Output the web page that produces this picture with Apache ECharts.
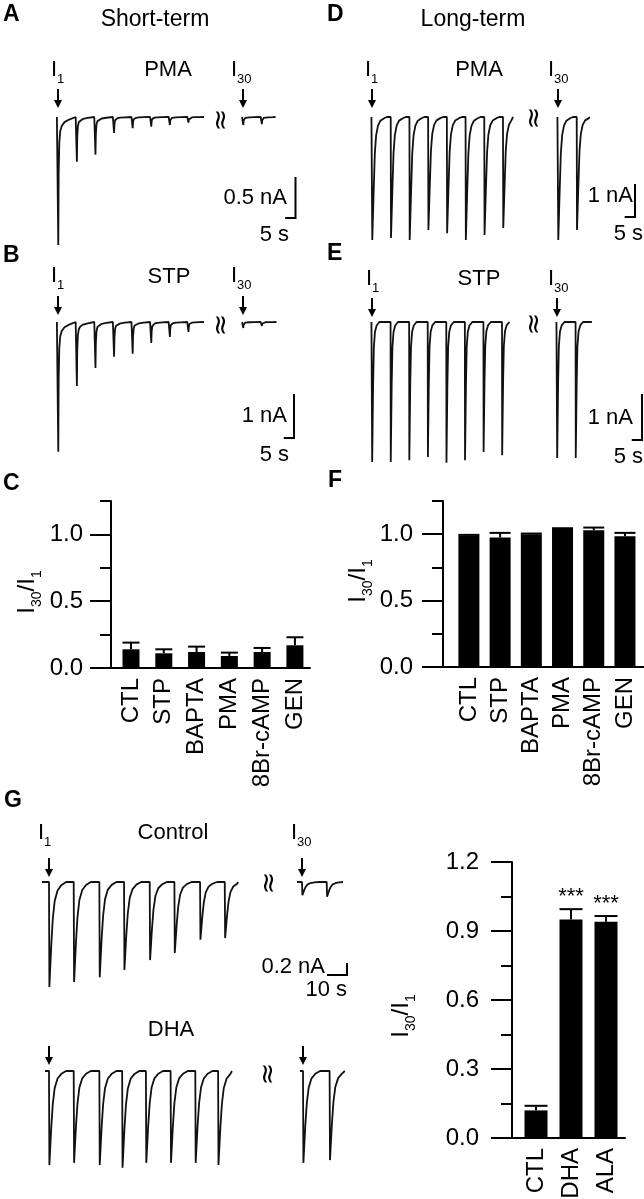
<!DOCTYPE html>
<html><head><meta charset="utf-8">
<script src="https://cdn.jsdelivr.net/npm/echarts@6.0.0/dist/echarts.min.js"></script>
<style>html,body{margin:0;padding:0;background:#fff}#c{width:644px;height:1199px}</style>
</head><body><div id="c"></div>
<script>
// ================= DATA =================
// Bar panels (I30/I1 ratio, mean and SEM)
const barCategoriesCF = ['CTL', 'STP', 'BAPTA', 'PMA', '8Br-cAMP', 'GEN'];
const ratioShortTerm = [0.14, 0.11, 0.12, 0.09, 0.12, 0.17];
const semShortTerm   = [0.05, 0.03, 0.04, 0.025, 0.03, 0.06];
const ratioLongTerm  = [0.99, 0.975, 1.0, 1.04, 1.03, 0.985];
const semLongTerm    = [0.005, 0.035, 0.005, 0.005, 0.02, 0.025];
const barCategoriesG = ['CTL', 'DHA', 'ALA'];
const ratioG = [0.12, 0.95, 0.94];
const semG   = [0.02, 0.045, 0.025];
const sigG   = ['', '***', '***'];
const tickLabelsCF = [0, 0.5, 1.0];
const tickMinorCF  = [0, 0.25, 0.5, 0.75, 1.0, 1.25];
const tickLabelsG  = [0, 0.3, 0.6, 0.9, 1.2];
const tickMinorG   = [0, 0.15, 0.3, 0.45, 0.6, 0.75, 0.9, 1.05, 1.2];

// Current traces: pulse times (s) and inward peak amplitudes (nA)
const pulseTimesAE   = [0, 10, 20, 30, 40, 50, 60, 70];
const pulseTimesAE30 = [290, 300];
const peaksA   = [1.60, 0.56, 0.47, 0.20, 0.14, 0.12, 0.10, 0.07];
const peaksA30 = [0.10, 0.09];
const peaksB   = [3.02, 1.49, 1.07, 0.81, 0.74, 0.49, 0.35, 0.23];
const peaksB30 = [0.14, 0.09];
const peaksD   = [3.84, 3.78, 3.84, 3.53, 3.63, 3.84, 3.69, 3.47];
const peaksD30 = [3.84, 3.53];
const peaksE   = [3.11, 3.11, 3.07, 3.00, 3.13, 3.07, 2.89, 2.96];
const peaksE30 = [3.02, 3.02];
const pulseTimesCtl   = [0, 13, 26.5, 39.5, 53, 66, 79.5, 92.5];
const pulseTimesCtl30 = [370, 383];
const peaksCtl   = [1.91, 1.82, 1.73, 1.60, 1.42, 1.29, 1.05, 1.02];
const peaksCtl30 = [0.24, 0.27];
const pulseTimesDha   = [0, 13, 26.5, 38.5, 51, 64, 77, 89];
const pulseTimesDha30 = [370, 384];
const peaksDha   = [1.71, 1.67, 1.71, 1.76, 1.67, 1.67, 1.67, 1.71];
const peaksDha30 = [1.67, 1.62];
// scale bars [nA, s]
const scaleA = [0.5, 5], scaleB = [1, 5], scaleD = [1, 5], scaleE = [1, 5], scaleG = [0.2, 10];

// waveform templates (time offset s, fraction of peak)
const shapeShort = [[0,0],[0.15,1],[0.35,0.45],[0.7,0.2],[1.2,0.11],[2,0.07],[3.5,0.04],[6,0.02],[9.5,0]];
const shapeLong  = [[0,0],[0.15,1],[0.9,0.6],[1.5,0.3],[2.2,0.15],[3.2,0.07],[4.5,0.03],[6.5,0.01],[8,0]];
const shapeSharp = [[0,0],[0.1,1],[0.6,0.45],[1.0,0.18],[1.6,0.07],[2.5,0.025],[4,0]];
const shapeG     = [[0,0],[0.2,1],[1.2,0.6],[2.0,0.35],[3,0.18],[4.5,0.08],[6.5,0.03],[9,0]];

// ================= LAYOUT =================
const FONT = '"Liberation Sans", Arial, Helvetica, sans-serif';
const ARROW = 'path://M3,0 L5,0 L5,11 L8,11 L4,19 L0,11 L3,11 Z';

const traces = [
  {times: pulseTimesAE, peaks: peaksA, times30: pulseTimesAE30, peaks30: peaksA30, shape: shapeShort,
   x0: 58, x30: 243, y0: 117, pxs: 1.86, pxa: 80, seg1: [-0.6, 78.5], seg2: [289.5, 307.5], scale: scaleA, corner: [295.5, 218], gap: 9},
  {times: pulseTimesAE, peaks: peaksB, times30: pulseTimesAE30, peaks30: peaksB30, shape: shapeShort,
   x0: 58, x30: 243, y0: 322, pxs: 1.86, pxa: 43, seg1: [-0.6, 78.5], seg2: [289.5, 308], scale: scaleB, corner: [294, 438], gap: 7},
  {times: pulseTimesAE, peaks: peaksD, times30: pulseTimesAE30, peaks30: peaksD30, shape: shapeLong,
   x0: 372, x30: 558, y0: 117, pxs: 1.871, pxa: 32, seg1: [-0.3, 75.4], seg2: [289.7, 307], scale: scaleD, corner: [635, 217], gap: 9},
  {times: pulseTimesAE, peaks: peaksE, times30: pulseTimesAE30, peaks30: peaksE30, shape: shapeSharp,
   x0: 372, x30: 557, y0: 322, pxs: 1.857, pxa: 45, seg1: [-0.3, 74.3], seg2: [289.7, 308.8], scale: scaleE, corner: [642, 440], gap: 5},
  {times: pulseTimesCtl, peaks: peaksCtl, times30: pulseTimesCtl30, peaks30: peaksCtl30, shape: shapeG,
   x0: 49, x30: 302, y0: 882, pxs: 1.9, pxa: 55, seg1: [-3.7, 99.5], seg2: [367.4, 391.6], scale: scaleG, corner: [347, 975], gap: 5},
  {times: pulseTimesDha, peaks: peaksDha, times30: pulseTimesDha30, peaks30: peaksDha30, shape: shapeG,
   x0: 49, x30: 303, y0: 1071, pxs: 1.9, pxa: 55, seg1: [-2.1, 96.3], seg2: [368.4, 392], scale: null, corner: null, gap: 6}
];

const option = {animation: false, backgroundColor: '#fff', grid: [], xAxis: [], yAxis: [], series: [], graphic: []};

function addGrid(g) {
  option.grid.push(Object.assign({outerBoundsMode: 'none', containLabel: false}, g));
  return option.grid.length - 1;
}

function waveform(times, peaks, shape, t0, t1) {
  const pts = [[t0, 0]];
  times.forEach((t, i) => shape.forEach(([dt, f]) => {
    const tt = t + dt;
    if (tt > t0 && tt < t1) pts.push([tt, -peaks[i] * f]);
  }));
  pts.push([t1, 0]);
  return pts;
}

function traceSegment(tr, times, peaks, xAnchor, range, withScale) {
  const ext = [range[0] - 0.5, range[1] + 0.5];
  let yMin = -Math.max(...peaks) - 0.15, yMax = 0.15;
  let scalePts = null;
  if (withScale && tr.scale) {
    const tc = times[0] + (tr.corner[0] - xAnchor) / tr.pxs;
    const vc = -(tr.corner[1] - tr.y0) / tr.pxa;
    scalePts = [[tc - tr.scale[1], vc], [tc, vc], [tc, vc + tr.scale[0]]];
    ext[1] = Math.max(ext[1], tc + 1.5);
    yMin = Math.min(yMin, vc - 0.1);
  }
  const gi = addGrid({
    left: xAnchor + (ext[0] - times[0]) * tr.pxs, width: (ext[1] - ext[0]) * tr.pxs,
    top: tr.y0 - yMax * tr.pxa, height: (yMax - yMin) * tr.pxa
  });
  option.xAxis.push({gridIndex: gi, type: 'value', min: ext[0], max: ext[1], show: false});
  option.yAxis.push({gridIndex: gi, type: 'value', min: yMin, max: yMax, show: false});
  const xi = option.xAxis.length - 1, yi = option.yAxis.length - 1;
  option.series.push({
    type: 'line', xAxisIndex: xi, yAxisIndex: yi, silent: true, symbol: 'none', clip: false,
    data: waveform(times, peaks, tr.shape, range[0], range[1]),
    lineStyle: {color: '#111', width: 1.8},
    markPoint: {
      symbol: ARROW, symbolSize: [8, 19], symbolOffset: [0, -(tr.gap + 9.5)], silent: true,
      itemStyle: {color: '#000'}, label: {show: false}, data: [{coord: [times[0], 0]}]
    }
  });
  if (scalePts) {
    option.series.push({
      type: 'line', xAxisIndex: xi, yAxisIndex: yi, silent: true, symbol: 'none', clip: false,
      data: scalePts, lineStyle: {color: '#000', width: 2, cap: 'square', join: 'miter'}
    });
  }
}

traces.forEach(tr => {
  traceSegment(tr, tr.times, tr.peaks, tr.x0, tr.seg1, false);
  traceSegment(tr, tr.times30, tr.peaks30, tr.x30, tr.seg2, true);
});

function barPanel(cfg) {
  const gi = addGrid({left: cfg.left, top: cfg.top, width: cfg.width, height: cfg.height});
  option.xAxis.push({
    gridIndex: gi, type: 'value', min: cfg.xMin, max: cfg.xMax, splitLine: {show: false},
    axisLine: {show: true, onZero: false, lineStyle: {color: '#000', width: 2}},
    axisTick: {show: false},
    axisLabel: {customValues: cfg.cats.map((c, i) => i), formatter: v => cfg.cats[Math.round(v)],
      rotate: 90, margin: 10, color: '#000', fontSize: 24, fontFamily: FONT}
  });
  const xi = option.xAxis.length - 1;
  option.yAxis.push({
    gridIndex: gi, type: 'value', position: 'left', min: 0, max: cfg.yMax, splitLine: {show: false},
    axisLine: {show: true, onZero: false, lineStyle: {color: '#000', width: 2}},
    axisTick: {show: true, inside: false, length: 11, customValues: cfg.minor, lineStyle: {color: '#000', width: 2}},
    axisLabel: {show: false}
  });
  option.yAxis.push({
    gridIndex: gi, type: 'value', position: 'left', min: 0, max: cfg.yMax, splitLine: {show: false},
    axisLine: {show: false, onZero: false},
    axisTick: {show: true, inside: false, length: 21, customValues: cfg.major, lineStyle: {color: '#000', width: 2}},
    axisLabel: {customValues: cfg.major, formatter: v => v.toFixed(1), margin: cfg.labelMargin,
      color: '#000', fontSize: 24, fontFamily: FONT}
  });
  const yi = option.yAxis.length - 2;
  option.series.push({
    type: 'bar', xAxisIndex: xi, yAxisIndex: yi, silent: true, barWidth: cfg.barW,
    itemStyle: {color: '#000'}, data: cfg.vals.map((v, i) => [i, v])
  });
  option.series.push({
    type: 'custom', xAxisIndex: xi, yAxisIndex: yi, silent: true,
    data: cfg.vals.map((v, i) => [i, v, v + cfg.sem[i], cfg.sig ? cfg.sig[i] : '']),
    encode: {x: 0, y: [1, 2]},
    renderItem: (params, api) => {
      const i = api.value(0);
      const p0 = api.coord([i, api.value(1)]);
      const p1 = api.coord([i, api.value(2)]);
      const hw = cfg.barW / 2;
      const st = {stroke: '#000', lineWidth: 2};
      const children = [
        {type: 'line', shape: {x1: p0[0], y1: p0[1], x2: p1[0], y2: p1[1]}, style: st},
        {type: 'line', shape: {x1: p1[0] - hw, y1: p1[1], x2: p1[0] + hw, y2: p1[1]}, style: st}
      ];
      const s = cfg.sig ? cfg.sig[params.dataIndex] : '';
      if (s) children.push({type: 'text', style: {text: s, x: p1[0], y: p1[1] - 1, align: 'center',
        verticalAlign: 'bottom', fontSize: 22, fontFamily: FONT, fill: '#000'}});
      return {type: 'group', children};
    }
  });
}

barPanel({left: 111, top: 501, width: 199, height: 167, xMin: -0.61, xMax: 5.46, yMax: 1.25,
  cats: barCategoriesCF, vals: ratioShortTerm, sem: semShortTerm, barW: 17,
  minor: tickMinorCF, major: tickLabelsCF, labelMargin: 28});
barPanel({left: 443, top: 501, width: 201, height: 166, xMin: -0.83, xMax: 5.61, yMax: 1.25,
  cats: barCategoriesCF, vals: ratioLongTerm, sem: semLongTerm, barW: 21,
  minor: tickMinorCF, major: tickLabelsCF, labelMargin: 30});
barPanel({left: 512, top: 862, width: 113, height: 276, xMin: -0.686, xMax: 2.543, yMax: 1.2,
  cats: barCategoriesG, vals: ratioG, sem: semG, sig: sigG, barW: 23,
  minor: tickMinorG, major: tickLabelsG, labelMargin: 33});

// ================= TEXT =================
function txt(x, y, text, size, align, opts) {
  option.graphic.push(Object.assign({type: 'text', x, y, silent: true,
    style: {text, fontSize: size, fontFamily: FONT, fill: '#000', align: align || 'center', verticalAlign: 'middle'}}, opts || {}));
}
function sub(x, y, parts, size, align, rot) {
  // parts: array of [main, subscript]
  const text = parts.map(p => `{m|${p[0]}}` + (p[1] ? `{s|${p[1]}}` : '')).join('');
  option.graphic.push({type: 'text', x, y, silent: true, rotation: rot || 0,
    style: {text, align: align || 'left', verticalAlign: 'middle', fill: '#000',
      rich: {m: {fontSize: size, fontFamily: FONT, fill: '#000'},
             s: {fontSize: Math.round(size * 0.6), fontFamily: FONT, fill: '#000', padding: [Math.round(size * 0.85), 0, 0, 0]}}}});
}
function letter(x, y, t) {
  option.graphic.push({type: 'text', x, y, silent: true,
    style: {text: t, fontSize: 23, fontWeight: 'bold', fontFamily: FONT, fill: '#000', align: 'left', verticalAlign: 'middle'}});
}
function wave(x, y) {
  option.graphic.push({type: 'text', x, y, rotation: Math.PI / 2, silent: true,
    style: {text: '≈', fontSize: 27, fontFamily: '"DejaVu Sans", sans-serif', fill: '#000', align: 'center', verticalAlign: 'middle'}});
}

letter(3, 15, 'A'); letter(3, 256, 'B'); letter(3, 484, 'C');
letter(327, 15, 'D'); letter(327, 254, 'E'); letter(328, 481, 'F'); letter(4, 801, 'G');

txt(155, 20, 'Short-term', 23);
txt(473, 20, 'Long-term', 23);
txt(168, 70, 'PMA', 22); txt(169, 277, 'STP', 22);
txt(479, 70, 'PMA', 22); txt(479, 279, 'STP', 22);
txt(173, 833, 'Control', 22); txt(171, 1030, 'DHA', 22);

sub(51, 70, [['I', '1']], 22); sub(231, 70, [['I', '30']], 22);
sub(51, 276, [['I', '1']], 22); sub(231, 276, [['I', '30']], 22);
sub(365, 70, [['I', '1']], 22); sub(548, 70, [['I', '30']], 22);
sub(366, 279, [['I', '1']], 22); sub(548, 279, [['I', '30']], 22);
sub(38, 833, [['I', '1']], 22); sub(291, 833, [['I', '30']], 22);

txt(287, 198, '0.5 nA', 22, 'right'); txt(289, 235, '5 s', 22, 'right');
txt(287, 416, '1 nA', 22, 'right'); txt(289, 455, '5 s', 22, 'right');
txt(633, 196, '1 nA', 22, 'right'); txt(643, 234, '5 s', 22, 'right');
txt(633, 418, '1 nA', 22, 'right'); txt(643, 457, '5 s', 22, 'right');
txt(325, 967, '0.2 nA', 22, 'right'); txt(347, 990, '10 s', 22, 'right');

wave(222, 120); wave(222, 325); wave(535, 118); wave(535, 324); wave(270, 883); wave(269, 1074);

sub(27, 592, [['I', '30'], ['/I', '1']], 24, 'center', Math.PI / 2);
sub(358, 581, [['I', '30'], ['/I', '1']], 24, 'center', Math.PI / 2);
sub(401, 1016, [['I', '30'], ['/I', '1']], 24, 'center', Math.PI / 2);

const chart = echarts.init(document.getElementById('c'), null, {renderer: 'canvas'});
chart.setOption(option);
</script></body></html>
